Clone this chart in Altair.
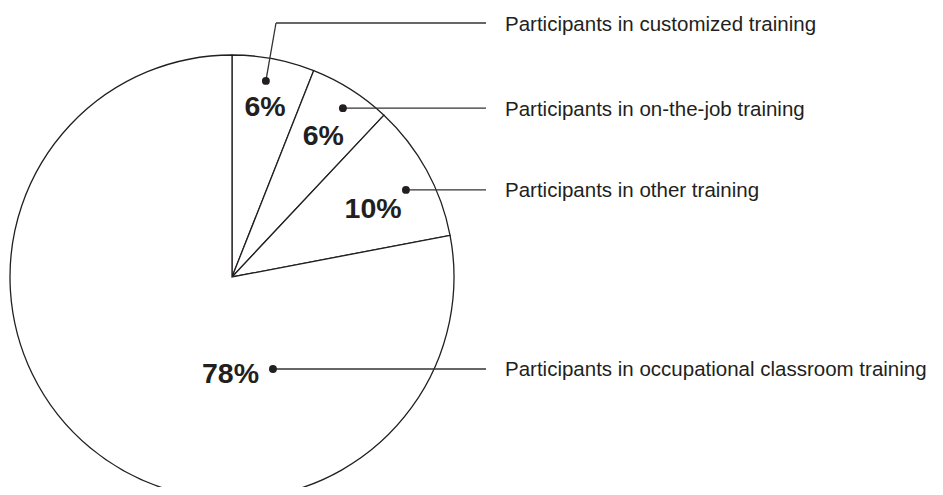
import math
import altair as alt
import pandas as pd

# ---- data ----
categories = [
    "Participants in customized training",
    "Participants in on-the-job training",
    "Participants in other training",
    "Participants in occupational classroom training",
]
shares = [6, 6, 10, 78]
pct_labels = ["6%", "6%", "10%", "78%"]

# ---- layout (pixels, plot coordinates) ----
W, H = 927, 479
CX, CY, R = 224, 269, 222
label_off = [0.15, 0.3, 2.8, -38.7]     # degrees from slice mid-angle
label_r = [174, 169, 157, 96]
dot_off = [-1.0, 0.9, 2.2, -63.6]
dot_r = [199, 202, 194.5, 100.7]
LINE_END_X = 478
TEXT_X = 497
ELBOW = (268, 15)
INK = "#231f20"

total = sum(shares)
mids = []
acc = 0
for s in shares:
    mids.append((acc + s / 2) / total * 360.0)
    acc += s


def polar(angle_deg, r):
    a = math.radians(angle_deg)
    return CX + r * math.sin(a), CY - r * math.cos(a)


pie_df = pd.DataFrame({"category": categories, "share": shares, "order": range(len(shares))})

lab_rows, dot_rows, seg_rows, leg_rows = [], [], [], []
for i, cat in enumerate(categories):
    lx, ly = polar(mids[i] + label_off[i], label_r[i])
    lab_rows.append({"x": lx, "y": ly + 10, "t": pct_labels[i]})
    dx, dy = polar(mids[i] + dot_off[i], dot_r[i])
    dot_rows.append({"x": dx, "y": dy})
    if i == 0:
        seg_rows.append({"x": dx, "y": dy, "x2": ELBOW[0], "y2": ELBOW[1]})
        seg_rows.append({"x": ELBOW[0], "y": ELBOW[1], "x2": LINE_END_X, "y2": ELBOW[1]})
        ty = ELBOW[1]
    else:
        seg_rows.append({"x": dx, "y": dy, "x2": LINE_END_X, "y2": dy})
        ty = dy
    leg_rows.append({"x": TEXT_X, "y": ty + 7.5, "t": cat})

lab_df = pd.DataFrame(lab_rows)
dot_df = pd.DataFrame(dot_rows)
seg_df = pd.DataFrame(seg_rows)
leg_df = pd.DataFrame(leg_rows)

px = lambda f: alt.X(f, type="quantitative", scale=None, axis=None)
py = lambda f: alt.Y(f, type="quantitative", scale=None, axis=None)

pie = alt.Chart(pie_df).mark_arc(radius=R, fill="white", stroke=INK, strokeWidth=1.3).encode(
    theta=alt.Theta("share:Q", stack=True),
    order=alt.Order("order:Q"),
    x=alt.value(CX),
    y=alt.value(CY),
)

segs = alt.Chart(seg_df).mark_rule(color="#333333", strokeWidth=1.3).encode(
    x=px("x"), y=py("y"), x2="x2:Q", y2="y2:Q"
)

dots = alt.Chart(dot_df).mark_point(filled=True, size=62, color=INK, opacity=1).encode(
    x=px("x"), y=py("y")
)

pcts = alt.Chart(lab_df).mark_text(
    font="Liberation Sans", fontSize=28.5, fontWeight="bold", color=INK,
    align="center", baseline="alphabetic",
).encode(x=px("x"), y=py("y"), text="t:N")

legend = alt.Chart(leg_df).mark_text(
    font="Liberation Sans", fontSize=20.5, color=INK, align="left", baseline="alphabetic",
).encode(x=px("x"), y=py("y"), text="t:N")

chart = alt.layer(pie, segs, dots, pcts, legend).properties(
    width=W, height=H, autosize=alt.AutoSizeParams(type="none"), padding=0
).configure_view(stroke=None)

chart.save("out.html", embed_options={"renderer": "svg", "actions": False})
